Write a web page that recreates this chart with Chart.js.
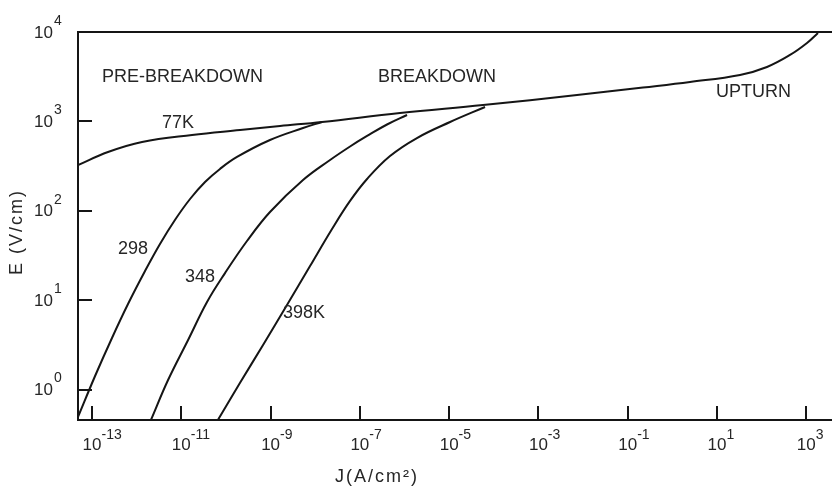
<!DOCTYPE html>
<html>
<head>
<meta charset="utf-8">
<title>E-J characteristics</title>
<script src="https://cdn.jsdelivr.net/npm/chart.js@4.4.1/dist/chart.umd.min.js"></script>
<style>
  html, body { margin: 0; padding: 0; background: #fff; }
  #box { width: 832px; height: 487px; }
</style>
</head>
<body>
<div id="box"><canvas id="ejChart" width="832" height="487"></canvas></div>
<script>
// J (A/cm2) against E (V/cm)
const j77 = [4.85e-14, 2.28e-13, 1.32e-12, 1.74e-11, 2.07e-10, 1.63e-9, 1.42e-8, 7.94e-7, 5.74e-5, 7.33e-3, 0.22, 2.49, 32.8, 132, 433, 1040, 1830];
const e77 = [325, 455, 589, 705, 801, 889, 985, 1242, 1525, 1972, 2393, 2761, 3304, 4064, 5533, 7534, 9750];

const j298 = [4.85e-14, 1.17e-13, 2.8e-13, 6.4e-13, 1.54e-12, 3.33e-12, 7.2e-12, 1.57e-11, 3.4e-11, 7.36e-11, 1.77e-10, 9.7e-10, 5.33e-9, 1.42e-8];
const e298 = [0.494, 1.42, 3.78, 9.06, 21.2, 42.5, 78.9, 135.5, 210, 294, 400, 619, 843, 985];

const j348 = [2.10e-12, 5.05e-12, 1.42e-11, 3.77e-11, 9.53e-11, 2.96e-10, 9.7e-10, 5.33e-9, 2.15e-8, 6.03e-8, 1.45e-7, 4.06e-7, 1.14e-6];
const e348 = [0.46, 1.28, 3.59, 9.55, 20.1, 45.9, 97, 221, 370, 524, 687, 923, 1180];

const j398 = [6.65e-11, 2.07e-10, 6.78e-10, 2.33e-9, 7.66e-9, 2.38e-8, 6.03e-8, 1.45e-7, 4.74e-7, 1.9e-6, 1.05e-5, 6.37e-5];
const e398 = [0.46, 1.19, 3.16, 8.83, 24.1, 62.6, 129, 227, 410, 652, 984, 1449];

// axis ticks
const xTickVals = [1e-13, 1e-11, 1e-9, 1e-7, 1e-5, 1e-3, 1e-1, 1e1, 1e3];
const xTickExp = ['-13', '-11', '-9', '-7', '-5', '-3', '-1', '1', '3'];
const yTickVals = [1, 10, 100, 1000, 10000];
const yTickExp = ['0', '1', '2', '3', '4'];

// region / curve labels, placed in data coordinates
const noteText = ['PRE-BREAKDOWN', 'BREAKDOWN', 'UPTURN', '77K', '298', '348', '398K'];
const noteJ = [1.67e-13, 2.55e-7, 9.5, 3.7e-12, 3.8e-13, 1.21e-11, 1.9e-9];
const noteE = [3140, 3140, 2133, 960, 37.4, 18.2, 7.2];

const FONT = '"Liberation Sans", Arial, sans-serif';
const INK = '#151515';
const TEXT = '#262626';

function pairUp(js, es) {
  return js.map((j, i) => ({ x: j, y: es[i] }));
}

function curve(js, es) {
  return {
    data: pairUp(js, es),
    borderColor: INK,
    borderWidth: 2,
    pointRadius: 0,
    fill: false,
    tension: 0.4
  };
}

const paperPlugin = {
  id: 'paper',
  afterDatasetsDraw(chart) {
    const { ctx, chartArea: a, scales: { x, y } } = chart;
    ctx.save();

    // frame: top, left, bottom (no right edge in the original)
    ctx.strokeStyle = INK;
    ctx.lineWidth = 2;
    ctx.beginPath();
    ctx.moveTo(a.right, a.top);
    ctx.lineTo(a.left, a.top);
    ctx.lineTo(a.left, a.bottom);
    ctx.lineTo(a.right, a.bottom);
    ctx.stroke();

    // inward tick marks
    ctx.beginPath();
    xTickVals.forEach(v => {
      const px = Math.round(x.getPixelForValue(v));
      ctx.moveTo(px, a.bottom);
      ctx.lineTo(px, a.bottom - 14);
    });
    yTickVals.forEach(v => {
      const py = Math.round(y.getPixelForValue(v));
      ctx.moveTo(a.left, py);
      ctx.lineTo(a.left + 14, py);
    });
    ctx.stroke();

    ctx.fillStyle = TEXT;
    ctx.textBaseline = 'middle';

    // y tick labels: 10 with raised exponent
    yTickVals.forEach((v, i) => {
      const py = y.getPixelForValue(v);
      ctx.font = '17px ' + FONT;
      ctx.textAlign = 'right';
      ctx.fillText('10', a.left - 25, py + 1);
      ctx.font = '14px ' + FONT;
      ctx.textAlign = 'left';
      ctx.fillText(yTickExp[i], a.left - 24, py - 11);
    });

    // x tick labels
    xTickVals.forEach((v, i) => {
      const px = x.getPixelForValue(v);
      ctx.font = '17px ' + FONT;
      ctx.textAlign = 'center';
      const w = ctx.measureText('10').width;
      ctx.fillText('10', px, a.bottom + 25);
      ctx.font = '14px ' + FONT;
      ctx.textAlign = 'left';
      ctx.fillText(xTickExp[i], px + w / 2, a.bottom + 15);
    });

    // notes on the plot
    ctx.font = '18px ' + FONT;
    ctx.textAlign = 'left';
    noteText.forEach((t, i) => {
      ctx.fillText(t, x.getPixelForValue(noteJ[i]), y.getPixelForValue(noteE[i]));
    });

    // axis titles
    ctx.letterSpacing = '2px';
    ctx.textAlign = 'center';
    ctx.fillText('J(A/cm²)', 377, 477);
    ctx.translate(17, 232);
    ctx.rotate(-Math.PI / 2);
    ctx.fillText('E (V/cm)', 0, 0);

    ctx.restore();
  }
};

new Chart(document.getElementById('ejChart'), {
  type: 'line',
  data: {
    datasets: [
      curve(j77, e77),
      curve(j298, e298),
      curve(j348, e348),
      curve(j398, e398)
    ]
  },
  options: {
    responsive: false,
    animation: false,
    devicePixelRatio: 1,
    layout: { padding: { left: 78, top: 32, right: 0, bottom: 67 } },
    plugins: {
      legend: { display: false },
      tooltip: { enabled: false }
    },
    scales: {
      x: { type: 'logarithmic', display: false, min: 4.85e-14, max: 3776 },
      y: { type: 'logarithmic', display: false, min: 0.457, max: 10000 }
    }
  },
  plugins: [paperPlugin]
});
</script>
</body>
</html>
